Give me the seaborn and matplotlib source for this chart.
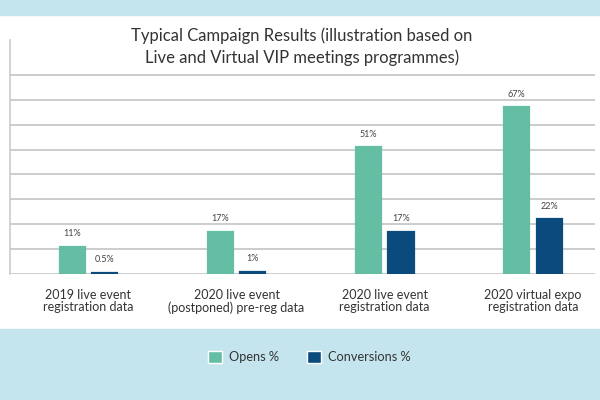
import pandas as pd
import matplotlib.pyplot as plt
import seaborn as sns
from matplotlib.patches import Rectangle, Patch

# Data
categorias = [
    '2019 live event\nregistration data',
    '2020 live event\n(postponed) pre-reg data',
    '2020 live event\nregistration data',
    '2020 virtual expo\nregistration data',
]
opens = [11, 17, 51, 67]
conversions = [0.5, 1, 17, 22]
rotulos_opens = ['11%', '17%', '51%', '67%']
rotulos_conv = ['0.5%', '1%', '17%', '22%']
series = ['Opens %', 'Conversions %']

cores = ['#63bea4', '#0b4a7c']
azul_fundo = '#c5e5ee'

df = pd.DataFrame({
    'Categoria': categorias * 2,
    'Valor': opens + conversions,
    'Serie': [series[0]] * 4 + [series[1]] * 4,
})

sns.set_theme(style="white")
plt.rcParams['font.family'] = ['Lato', 'DejaVu Sans']

fig = plt.figure(figsize=(6, 4), dpi=100)
fig.patches.append(Rectangle((0, 0.9625), 1, 0.0375, transform=fig.transFigure,
                             color=azul_fundo, zorder=0))
fig.patches.append(Rectangle((0, 0), 1, 0.177, transform=fig.transFigure,
                             color=azul_fundo, zorder=0))

ax = fig.add_axes([10 / 600, 0.315, 585 / 600, 0.585])
ax.set_facecolor('none')
ax.set_axisbelow(True)
ax.grid(axis='y', color='#cccccc', linewidth=1.4, zorder=0)

sns.barplot(data=df, x='Categoria', y='Valor', hue='Serie', palette=cores,
            width=0.44, gap=0.23, saturation=1, legend=False, ax=ax, zorder=5)

# contorno na mesma cor para que as barras pequenas aparecam sobre a linha base
for cont in ax.containers:
    for barra in cont:
        barra.set_edgecolor(barra.get_facecolor())
        barra.set_linewidth(1.6)

for cont, rot in zip(ax.containers, [rotulos_opens, rotulos_conv]):
    ax.bar_label(cont, labels=rot, padding=6, fontsize=6.5, color='#444444')

ax.set_ylim(0, 94)
ax.set_xlim(-0.53, 3.42)
ax.set_yticks(range(0, 81, 10))
ax.set_yticklabels([])
ax.tick_params(axis='y', length=0)

ax.set_xticks(range(len(categorias)))
ax.set_xticklabels(categorias, fontsize=9, color='#333333', linespacing=1.05)
ax.tick_params(axis='x', length=0, pad=10.5)
ax.set_xlabel('')
ax.set_ylabel('')

for lado in ['top', 'right', 'bottom']:
    ax.spines[lado].set_visible(False)
ax.spines['left'].set_color('#cccccc')
ax.spines['left'].set_linewidth(1.2)

fig.text(0.503, 0.884, 'Typical Campaign Results (illustration based on\n'
         'Live and Virtual VIP meetings programmes)',
         ha='center', va='center', fontsize=12, color='#333333', linespacing=1.42)

handles = [Patch(facecolor=c, label=s) for c, s in zip(cores, series)]
fig.legend(handles=handles, loc='center', bbox_to_anchor=(0.516, 0.107), ncol=2,
           frameon=False, fontsize=9.2, handlelength=1.1, handleheight=1.1,
           columnspacing=2.2, handletextpad=0.55, labelcolor='#333333')

plt.savefig('out.png', dpi=100)
